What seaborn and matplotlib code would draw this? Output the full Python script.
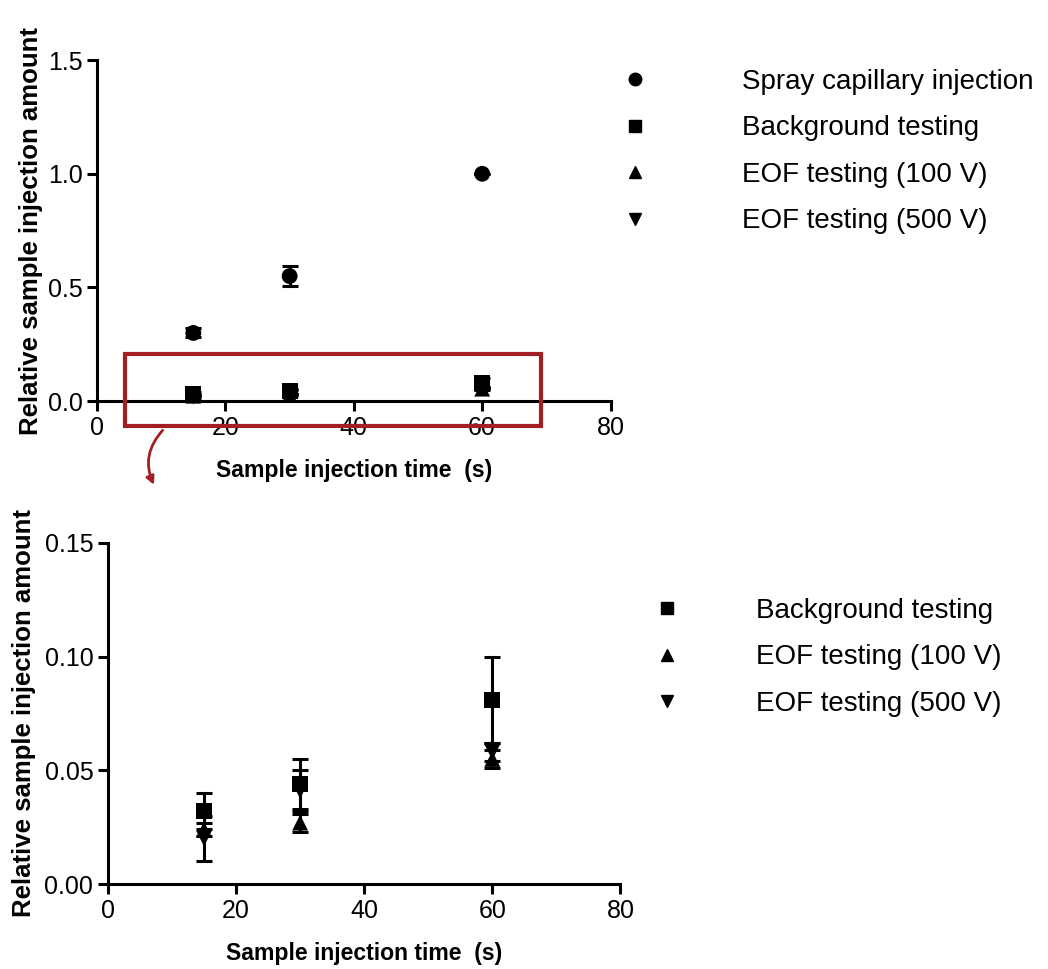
import numpy as np
import pandas as pd
import matplotlib
matplotlib.use("Agg")
import matplotlib.pyplot as plt
from matplotlib.patches import Rectangle, FancyArrowPatch
from matplotlib.lines import Line2D
import seaborn as sns

# data
times = [15, 30, 60]
spray = [0.30, 0.55, 1.00]
spray_err = [0.02, 0.045, 0.0]
background = [0.032, 0.044, 0.081]
background_err = [0.008, 0.011, 0.019]
eof100 = [0.024, 0.027, 0.055]
eof100_err = [0.003, 0.004, 0.004]
eof500 = [0.020, 0.041, 0.058]
eof500_err = [0.010, 0.009, 0.004]

names = ["Spray capillary injection", "Background testing",
         "EOF testing (100 V)", "EOF testing (500 V)"]
marks = {names[0]: "o", names[1]: "s", names[2]: "^", names[3]: "v"}

def make_frame(series):
    rows = []
    for name, vals, errs in series:
        for t, v, e in zip(times, vals, errs):
            rows.append({"time": t, "amount": v, "err": e, "series": name})
    return pd.DataFrame(rows)

top_df = make_frame([(names[0], spray, spray_err),
                     (names[1], background, background_err),
                     (names[2], eof100, eof100_err),
                     (names[3], eof500, eof500_err)])
bot_df = make_frame([(names[1], background, background_err),
                     (names[2], eof100, eof100_err),
                     (names[3], eof500, eof500_err)])

sns.set_style("ticks")
plt.rcParams["font.family"] = ["Liberation Sans", "DejaVu Sans"]
for key in ["text.color", "axes.labelcolor", "xtick.color", "ytick.color", "axes.edgecolor"]:
    plt.rcParams[key] = "black"

fig = plt.figure(figsize=(10.48, 9.69), dpi=100)
ax1 = fig.add_axes([0.0926, 0.586, 0.490, 0.352])
ax2 = fig.add_axes([0.103, 0.0877, 0.489, 0.352])

def draw(ax, df, ylim, yticks, fmt, ypad):
    for name, g in df.groupby("series", sort=False):
        ax.errorbar(g["time"], g["amount"], yerr=g["err"], fmt="none",
                    ecolor="black", elinewidth=2.2, capsize=6, capthick=2.2,
                    clip_on=False, zorder=3)
    sns.scatterplot(data=df, x="time", y="amount", style="series",
                    markers=marks, color="black", s=130, edgecolor="black",
                    linewidth=0, legend=False, ax=ax, zorder=4, clip_on=False)
    ax.set_xlim(0, 80)
    ax.set_ylim(*ylim)
    ax.set_xticks([0, 20, 40, 60, 80])
    ax.set_yticks(yticks)
    ax.set_yticklabels([fmt.format(v) for v in yticks])
    for s in ["top", "right"]:
        ax.spines[s].set_visible(False)
    for s in ["left", "bottom"]:
        ax.spines[s].set_linewidth(2.2)
    ax.tick_params(width=2.2, length=7, labelsize=18, direction="out")
    ax.set_xlabel("Sample injection time  (s)", fontsize=16.6, fontweight="bold", labelpad=14)
    ax.set_ylabel("Relative sample injection amount", fontsize=18.5, fontweight="bold", labelpad=ypad)

draw(ax1, top_df, (0, 1.5), [0.0, 0.5, 1.0, 1.5], "{:.1f}", 3)
draw(ax2, bot_df, (0, 0.15), [0.00, 0.05, 0.10, 0.15], "{:.2f}", 6)

# red zoom box on the upper panel
red = "#a31f24"
ax1.add_patch(Rectangle((4.4, -0.11), 64.7, 0.317, fill=False, edgecolor=red,
                        linewidth=3, clip_on=False, zorder=5))
arrow = FancyArrowPatch((0.157, 0.558), (0.148, 0.497), transform=fig.transFigure,
                        connectionstyle="arc3,rad=0.35", arrowstyle="-|>",
                        mutation_scale=12, color=red, linewidth=2)
fig.patches.append(arrow)

def handles(keys):
    return [Line2D([], [], linestyle="none", marker=marks[k], color="black",
                   markersize=9) for k in keys]

fig.legend(handles(names), names, loc="upper left", bbox_to_anchor=(0.579, 0.929),
           frameon=False, fontsize=20, borderpad=0, borderaxespad=0,
           handlelength=2, handletextpad=2.88, labelspacing=0.74)
fig.legend(handles(names[1:]), names[1:], loc="upper left", bbox_to_anchor=(0.610, 0.383),
           frameon=False, fontsize=20, borderpad=0, borderaxespad=0,
           handlelength=2, handletextpad=2.2, labelspacing=0.74)

fig.savefig("out.png", dpi=100)
